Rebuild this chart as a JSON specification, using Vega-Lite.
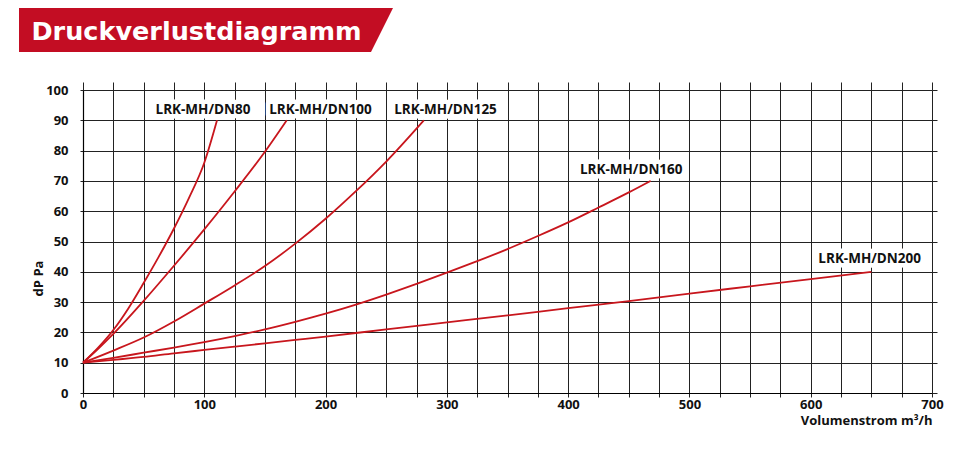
{
  "$schema": "https://vega.github.io/schema/vega-lite/v6.json",
  "padding": {"left": 19, "top": 8, "right": 5, "bottom": 5},
  "background": "white",
  "config": {"view": {"stroke": null}, "font": "Open Sans"},
  "columns": 1,
  "align": {"row": "none", "column": "all"},
  "spacing": 29,
  "datasets": {
    "curves": [
      {"series": "LRK-MH/DN80", "volumenstrom": 0, "dp": 10},
      {"series": "LRK-MH/DN80", "volumenstrom": 12.5, "dp": 15},
      {"series": "LRK-MH/DN80", "volumenstrom": 25, "dp": 20.8},
      {"series": "LRK-MH/DN80", "volumenstrom": 37.5, "dp": 28},
      {"series": "LRK-MH/DN80", "volumenstrom": 50, "dp": 36.3},
      {"series": "LRK-MH/DN80", "volumenstrom": 62.5, "dp": 45},
      {"series": "LRK-MH/DN80", "volumenstrom": 75, "dp": 54.3},
      {"series": "LRK-MH/DN80", "volumenstrom": 87.5, "dp": 64.5},
      {"series": "LRK-MH/DN80", "volumenstrom": 100, "dp": 76},
      {"series": "LRK-MH/DN80", "volumenstrom": 110.5, "dp": 90},
      {"series": "LRK-MH/DN100", "volumenstrom": 0, "dp": 10},
      {"series": "LRK-MH/DN100", "volumenstrom": 12.5, "dp": 14.6},
      {"series": "LRK-MH/DN100", "volumenstrom": 25, "dp": 19.5},
      {"series": "LRK-MH/DN100", "volumenstrom": 50, "dp": 30.4},
      {"series": "LRK-MH/DN100", "volumenstrom": 75, "dp": 42},
      {"series": "LRK-MH/DN100", "volumenstrom": 100, "dp": 54},
      {"series": "LRK-MH/DN100", "volumenstrom": 125, "dp": 66.5},
      {"series": "LRK-MH/DN100", "volumenstrom": 150, "dp": 79.6},
      {"series": "LRK-MH/DN100", "volumenstrom": 168, "dp": 90},
      {"series": "LRK-MH/DN125", "volumenstrom": 0, "dp": 10},
      {"series": "LRK-MH/DN125", "volumenstrom": 25, "dp": 14},
      {"series": "LRK-MH/DN125", "volumenstrom": 50, "dp": 18.3},
      {"series": "LRK-MH/DN125", "volumenstrom": 75, "dp": 23.6},
      {"series": "LRK-MH/DN125", "volumenstrom": 100, "dp": 29.5},
      {"series": "LRK-MH/DN125", "volumenstrom": 125, "dp": 35.5},
      {"series": "LRK-MH/DN125", "volumenstrom": 150, "dp": 41.9},
      {"series": "LRK-MH/DN125", "volumenstrom": 175, "dp": 49.3},
      {"series": "LRK-MH/DN125", "volumenstrom": 200, "dp": 57.5},
      {"series": "LRK-MH/DN125", "volumenstrom": 225, "dp": 66.6},
      {"series": "LRK-MH/DN125", "volumenstrom": 250, "dp": 76.4},
      {"series": "LRK-MH/DN125", "volumenstrom": 281, "dp": 90},
      {"series": "LRK-MH/DN160", "volumenstrom": 0, "dp": 10},
      {"series": "LRK-MH/DN160", "volumenstrom": 25, "dp": 11.6},
      {"series": "LRK-MH/DN160", "volumenstrom": 50, "dp": 13.3},
      {"series": "LRK-MH/DN160", "volumenstrom": 75, "dp": 15},
      {"series": "LRK-MH/DN160", "volumenstrom": 100, "dp": 16.8},
      {"series": "LRK-MH/DN160", "volumenstrom": 125, "dp": 18.8},
      {"series": "LRK-MH/DN160", "volumenstrom": 150, "dp": 21},
      {"series": "LRK-MH/DN160", "volumenstrom": 175, "dp": 23.5},
      {"series": "LRK-MH/DN160", "volumenstrom": 200, "dp": 26.2},
      {"series": "LRK-MH/DN160", "volumenstrom": 225, "dp": 29.2},
      {"series": "LRK-MH/DN160", "volumenstrom": 250, "dp": 32.5},
      {"series": "LRK-MH/DN160", "volumenstrom": 275, "dp": 36},
      {"series": "LRK-MH/DN160", "volumenstrom": 300, "dp": 39.7},
      {"series": "LRK-MH/DN160", "volumenstrom": 325, "dp": 43.5},
      {"series": "LRK-MH/DN160", "volumenstrom": 350, "dp": 47.5},
      {"series": "LRK-MH/DN160", "volumenstrom": 375, "dp": 51.8},
      {"series": "LRK-MH/DN160", "volumenstrom": 400, "dp": 56.3},
      {"series": "LRK-MH/DN160", "volumenstrom": 425, "dp": 61.2},
      {"series": "LRK-MH/DN160", "volumenstrom": 450, "dp": 66.2},
      {"series": "LRK-MH/DN160", "volumenstrom": 468, "dp": 70},
      {"series": "LRK-MH/DN200", "volumenstrom": 0, "dp": 10},
      {"series": "LRK-MH/DN200", "volumenstrom": 25, "dp": 10.9},
      {"series": "LRK-MH/DN200", "volumenstrom": 50, "dp": 11.9},
      {"series": "LRK-MH/DN200", "volumenstrom": 75, "dp": 13.1},
      {"series": "LRK-MH/DN200", "volumenstrom": 100, "dp": 14.2},
      {"series": "LRK-MH/DN200", "volumenstrom": 125, "dp": 15.3},
      {"series": "LRK-MH/DN200", "volumenstrom": 150, "dp": 16.4},
      {"series": "LRK-MH/DN200", "volumenstrom": 175, "dp": 17.5},
      {"series": "LRK-MH/DN200", "volumenstrom": 200, "dp": 18.6},
      {"series": "LRK-MH/DN200", "volumenstrom": 250, "dp": 21},
      {"series": "LRK-MH/DN200", "volumenstrom": 300, "dp": 23.3},
      {"series": "LRK-MH/DN200", "volumenstrom": 350, "dp": 25.6},
      {"series": "LRK-MH/DN200", "volumenstrom": 400, "dp": 28},
      {"series": "LRK-MH/DN200", "volumenstrom": 450, "dp": 30.3},
      {"series": "LRK-MH/DN200", "volumenstrom": 500, "dp": 32.8},
      {"series": "LRK-MH/DN200", "volumenstrom": 550, "dp": 35.2},
      {"series": "LRK-MH/DN200", "volumenstrom": 600, "dp": 37.6},
      {"series": "LRK-MH/DN200", "volumenstrom": 650, "dp": 40}
    ],
    "labels": [
      {"series": "LRK-MH/DN80", "volumenstrom": 98.9, "dp": 92},
      {"series": "LRK-MH/DN100", "volumenstrom": 195.8, "dp": 92},
      {"series": "LRK-MH/DN125", "volumenstrom": 298.9, "dp": 92},
      {"series": "LRK-MH/DN160", "volumenstrom": 452, "dp": 72.2},
      {"series": "LRK-MH/DN200", "volumenstrom": 648.6, "dp": 42.9}
    ]
  },
  "concat": [
    {
      "width": 246,
      "height": 44,
      "data": {"values": [{"title": "Druckverlustdiagramm"}]},
      "layer": [
        {
          "mark": {"type": "point", "shape": "M-187,-22L187,-22L165,22L-187,22Z", "size": 4, "filled": true, "color": "#c30d23", "opacity": 1, "strokeWidth": 0}
        },
        {
          "mark": {"type": "text", "font": "DejaVu Sans", "fontWeight": "bold", "fontSize": 25.5, "color": "white", "align": "center", "baseline": "middle", "dx": -9.5, "dy": 1.5},
          "encoding": {"text": {"field": "title"}}
        }
      ]
    },
    {
      "width": 849,
      "height": 303,
      "layer": [
        {
          "data": {"name": "curves"},
          "mark": {"type": "line", "color": "#c8161d", "strokeWidth": 1.8, "interpolate": "monotone"},
          "encoding": {
            "x": {
              "field": "volumenstrom", "type": "quantitative",
              "scale": {"domain": [0, 700], "nice": false},
              "axis": {
                "orient": "bottom",
                "values": [0, 25, 50, 75, 100, 125, 150, 175, 200, 225, 250, 275, 300, 325, 350, 375, 400, 425, 450, 475, 500, 525, 550, 575, 600, 625, 650, 675, 700],
                "labelExpr": "datum.value % 100 === 0 ? datum.label : ''",
                "grid": true, "gridColor": "#222", "gridWidth": 1, "gridOpacity": 1,
                "tickColor": "#222", "tickSize": 4, "tickWidth": 1,
                "domainColor": "#000", "domainWidth": 1.2,
                "labelFont": "Open Sans", "labelFontSize": 13, "labelFontWeight": "bold", "labelColor": "#111",
                "labelPadding": 1, "labelFlush": false, "labelOverlap": false,
                "title": "Volumenstrom m³/h", "titleAnchor": "end",
                "titleFont": "Open Sans", "titleFontSize": 13, "titleFontWeight": "bold", "titleColor": "#111", "titlePadding": 3
              }
            },
            "y": {
              "field": "dp", "type": "quantitative",
              "scale": {"domain": [0, 100], "nice": false},
              "axis": {
                "orient": "left",
                "values": [0, 10, 20, 30, 40, 50, 60, 70, 80, 90, 100],
                "grid": true, "gridColor": "#222", "gridWidth": 1, "gridOpacity": 1,
                "tickColor": "#222", "tickSize": 3, "tickWidth": 1,
                "domainColor": "#000", "domainWidth": 1.2,
                "labelFont": "Open Sans", "labelFontSize": 13, "labelFontWeight": "bold", "labelColor": "#111",
                "labelPadding": 12, "labelFlush": false,
                "title": "dP Pa", "titleFont": "Open Sans", "titleFontSize": 13, "titleFontWeight": "bold", "titleColor": "#111",
                "titlePadding": 0, "titleY": 188
              }
            },
            "detail": {"field": "series"}
          }
        },
        {
          "data": {"name": "labels"},
          "mark": {"type": "text", "font": "Open Sans", "fontWeight": "bold", "fontSize": 13.5, "align": "center", "baseline": "alphabetic", "color": "white", "stroke": "white", "strokeWidth": 9, "strokeJoin": "round"},
          "encoding": {
            "x": {
              "field": "volumenstrom", "type": "quantitative",
              "axis": {
                "orient": "top",
                "values": [0, 25, 50, 75, 100, 125, 150, 175, 200, 225, 250, 275, 300, 325, 350, 375, 400, 425, 450, 475, 500, 525, 550, 575, 600, 625, 650, 675, 700],
                "grid": false, "domain": false, "labels": false,
                "tickColor": "#222", "tickSize": 8, "tickWidth": 1, "title": null
              }
            },
            "y": {
              "field": "dp", "type": "quantitative",
              "axis": {
                "orient": "right",
                "values": [0, 10, 20, 30, 40, 50, 60, 70, 80, 90, 100],
                "grid": false, "domain": false, "labels": false,
                "tickColor": "#222", "tickSize": 5, "tickWidth": 1, "title": null
              }
            },
            "text": {"field": "series"}
          }
        },
        {
          "data": {"name": "labels"},
          "mark": {"type": "text", "font": "Open Sans", "fontWeight": "bold", "fontSize": 13.5, "align": "center", "baseline": "alphabetic", "color": "#111"},
          "encoding": {
            "x": {"field": "volumenstrom", "type": "quantitative", "axis": null},
            "y": {"field": "dp", "type": "quantitative", "axis": null},
            "text": {"field": "series"}
          }
        }
      ]
    }
  ]
}
